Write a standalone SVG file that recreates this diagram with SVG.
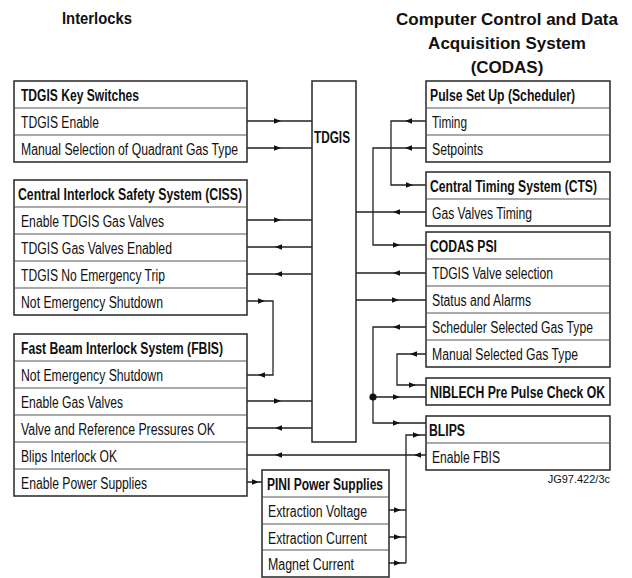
<svg xmlns="http://www.w3.org/2000/svg" xmlns:xlink="http://www.w3.org/1999/xlink" width="632" height="578" viewBox="0 0 632 578">
<style>
text{font-family:"Liberation Sans Narrow","Liberation Sans",Arial,sans-serif;fill:#111}
.t{font-size:16px}
.h{font-size:16px;font-weight:bold}
.title{font-family:"Liberation Sans",Arial,sans-serif;font-size:17px;font-weight:bold;text-anchor:middle}
.box{fill:#fff;stroke:#333;stroke-width:1.6}
.div{stroke:#555;stroke-width:1.1}
.c{fill:none;stroke:#222;stroke-width:1.3}
.ar{fill:#111}
.ref{font-family:"Liberation Sans",Arial,sans-serif;font-size:11px;text-anchor:end}
</style>
<defs>
<path id="a" class="ar" d="M-4,-2.8 L3,0 L-4,2.8 Z"/>
</defs>
<rect width="632" height="578" fill="#fff"/>

<g id="titles">
<text class="title" x="97" y="24" textLength="70" lengthAdjust="spacingAndGlyphs">Interlocks</text>
<text class="title" x="507" y="25">Computer Control and Data</text>
<text class="title" x="507" y="49">Acquisition System</text>
<text class="title" x="507" y="73">(CODAS)</text>
</g>

<g id="connectors">
<path class="c" d="M247,121H312M247,148H312M247,220H312M247,247H312M247,274H312"/>
<path class="c" d="M247,301H273V375H247"/>
<path class="c" d="M247,401H312M247,428H312M247,455H426M247,482H262"/>
<path class="c" d="M389,510H406M389,537H406M389,563H406M406,563V435H426"/>
<path class="c" d="M426,121H391V185H426M426,148H373V245H426M426,212H356M426,273H356M356,300H426"/>
<path class="c" d="M426,327H373V423H426M373,397H426M426,354H397V385H426"/>
<circle cx="373" cy="397" r="3.6" fill="#111"/>
<use xlink:href="#a" transform="translate(278,121)"/>
<use xlink:href="#a" transform="translate(278,148)"/>
<use xlink:href="#a" transform="translate(278,220)"/>
<use xlink:href="#a" transform="translate(278,247) rotate(180)"/>
<use xlink:href="#a" transform="translate(278,274) rotate(180)"/>
<use xlink:href="#a" transform="translate(262,301)"/>
<use xlink:href="#a" transform="translate(261,375) rotate(180)"/>
<use xlink:href="#a" transform="translate(278,401)"/>
<use xlink:href="#a" transform="translate(278,428) rotate(180)"/>
<use xlink:href="#a" transform="translate(278,455) rotate(180)"/>
<use xlink:href="#a" transform="translate(417,455) rotate(180)"/>
<use xlink:href="#a" transform="translate(256,482)"/>
<use xlink:href="#a" transform="translate(398,510)"/>
<use xlink:href="#a" transform="translate(398,537)"/>
<use xlink:href="#a" transform="translate(398,563)"/>
<use xlink:href="#a" transform="translate(417,435)"/>
<use xlink:href="#a" transform="translate(408,121) rotate(180)"/>
<use xlink:href="#a" transform="translate(410,185)"/>
<use xlink:href="#a" transform="translate(408,148) rotate(180)"/>
<use xlink:href="#a" transform="translate(397,245)"/>
<use xlink:href="#a" transform="translate(396,212) rotate(180)"/>
<use xlink:href="#a" transform="translate(396,273) rotate(180)"/>
<use xlink:href="#a" transform="translate(396,300)"/>
<use xlink:href="#a" transform="translate(396,327) rotate(180)"/>
<use xlink:href="#a" transform="translate(413,354) rotate(180)"/>
<use xlink:href="#a" transform="translate(413,385)"/>
<use xlink:href="#a" transform="translate(397,397)"/>
<use xlink:href="#a" transform="translate(397,423)"/>
</g>

<g id="tdgis-key-switches">
<rect class="box" x="14" y="81" width="233" height="81"/>
<path class="div" d="M14,108H247M14,135H247"/>
<text class="h" x="21" y="101" textLength="118" lengthAdjust="spacingAndGlyphs">TDGIS Key Switches</text>
<text class="t" x="21" y="128" textLength="78" lengthAdjust="spacingAndGlyphs">TDGIS Enable</text>
<text class="t" x="21" y="155" textLength="217" lengthAdjust="spacingAndGlyphs">Manual Selection of Quadrant Gas Type</text>
</g>

<g id="ciss">
<rect class="box" x="14" y="180" width="233" height="135"/>
<path class="div" d="M14,207H247M14,234H247M14,261H247M14,288H247"/>
<text class="h" x="18" y="200" textLength="224" lengthAdjust="spacingAndGlyphs">Central Interlock Safety System (CISS)</text>
<text class="t" x="21" y="227" textLength="143" lengthAdjust="spacingAndGlyphs">Enable TDGIS Gas Valves</text>
<text class="t" x="21" y="254" textLength="151" lengthAdjust="spacingAndGlyphs">TDGIS Gas Valves Enabled</text>
<text class="t" x="21" y="281" textLength="144" lengthAdjust="spacingAndGlyphs">TDGIS No Emergency Trip</text>
<text class="t" x="21" y="308" textLength="142" lengthAdjust="spacingAndGlyphs">Not Emergency Shutdown</text>
</g>

<g id="fbis">
<rect class="box" x="14" y="334" width="233" height="162"/>
<path class="div" d="M14,361H247M14,388H247M14,415H247M14,442H247M14,469H247"/>
<text class="h" x="21" y="354" textLength="202" lengthAdjust="spacingAndGlyphs">Fast Beam Interlock System (FBIS)</text>
<text class="t" x="21" y="381" textLength="142" lengthAdjust="spacingAndGlyphs">Not Emergency Shutdown</text>
<text class="t" x="21" y="408" textLength="102" lengthAdjust="spacingAndGlyphs">Enable Gas Valves</text>
<text class="t" x="21" y="435" textLength="194" lengthAdjust="spacingAndGlyphs">Valve and Reference Pressures OK</text>
<text class="t" x="21" y="462" textLength="96" lengthAdjust="spacingAndGlyphs">Blips Interlock OK</text>
<text class="t" x="21" y="489" textLength="126" lengthAdjust="spacingAndGlyphs">Enable Power Supplies</text>
</g>

<g id="tdgis">
<rect class="box" x="312" y="81" width="44" height="361"/>
<text class="h" x="314" y="143" textLength="36" lengthAdjust="spacingAndGlyphs">TDGIS</text>
</g>

<g id="pulse-set-up">
<rect class="box" x="426" y="81" width="184" height="81"/>
<path class="div" d="M426,108H610M426,135H610"/>
<text class="h" x="430" y="101" textLength="145" lengthAdjust="spacingAndGlyphs">Pulse Set Up (Scheduler)</text>
<text class="t" x="432" y="128" textLength="35" lengthAdjust="spacingAndGlyphs">Timing</text>
<text class="t" x="432" y="155" textLength="51" lengthAdjust="spacingAndGlyphs">Setpoints</text>
</g>

<g id="cts">
<rect class="box" x="426" y="172" width="184" height="54"/>
<path class="div" d="M426,199H610"/>
<text class="h" x="430" y="192" textLength="167" lengthAdjust="spacingAndGlyphs">Central Timing System (CTS)</text>
<text class="t" x="432" y="219" textLength="100" lengthAdjust="spacingAndGlyphs">Gas Valves Timing</text>
</g>

<g id="codas-psi">
<rect class="box" x="426" y="232" width="184" height="135"/>
<path class="div" d="M426,259H610M426,286H610M426,313H610M426,340H610"/>
<text class="h" x="430" y="252" textLength="67" lengthAdjust="spacingAndGlyphs">CODAS PSI</text>
<text class="t" x="432" y="279" textLength="121" lengthAdjust="spacingAndGlyphs">TDGIS Valve selection</text>
<text class="t" x="432" y="306" textLength="99" lengthAdjust="spacingAndGlyphs">Status and Alarms</text>
<text class="t" x="432" y="333" textLength="161" lengthAdjust="spacingAndGlyphs">Scheduler Selected Gas Type</text>
<text class="t" x="432" y="360" textLength="146" lengthAdjust="spacingAndGlyphs">Manual Selected Gas Type</text>
</g>

<g id="niblech">
<rect class="box" x="426" y="378" width="184" height="27"/>
<text class="h" x="430" y="398" textLength="175" lengthAdjust="spacingAndGlyphs">NIBLECH Pre Pulse Check OK</text>
</g>

<g id="blips">
<rect class="box" x="426" y="416" width="184" height="54"/>
<path class="div" d="M426,443H610"/>
<text class="h" x="429" y="436" textLength="36" lengthAdjust="spacingAndGlyphs">BLIPS</text>
<text class="t" x="432" y="463" textLength="68" lengthAdjust="spacingAndGlyphs">Enable FBIS</text>
</g>

<g id="pini">
<rect class="box" x="262" y="470" width="127" height="107"/>
<path class="div" d="M262,497H389M262,524H389M262,550H389"/>
<text class="h" x="267" y="490" textLength="116" lengthAdjust="spacingAndGlyphs">PINI Power Supplies</text>
<text class="t" x="268" y="517" textLength="99" lengthAdjust="spacingAndGlyphs">Extraction Voltage</text>
<text class="t" x="268" y="543.5" textLength="99" lengthAdjust="spacingAndGlyphs">Extraction Current</text>
<text class="t" x="268" y="570" textLength="86" lengthAdjust="spacingAndGlyphs">Magnet Current</text>
</g>

<text class="ref" x="610" y="483">JG97.422/3c</text>
</svg>
